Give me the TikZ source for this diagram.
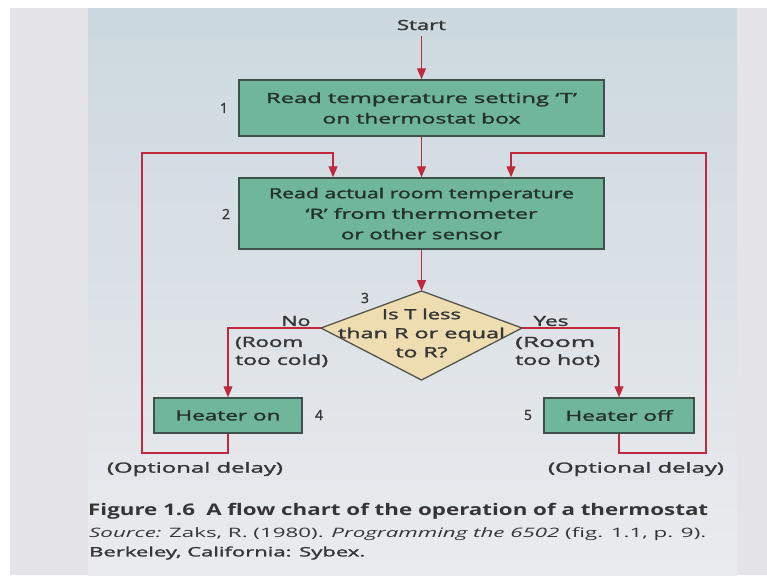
\documentclass[tikz,border=0pt]{standalone}
\usepackage{fontspec}
\setmainfont{Open Sans}
\newfontfamily\diagfont{Open Sans}[FakeBold=1.5]
\usetikzlibrary{arrows.meta}
\definecolor{outerbg}{HTML}{E5E5E9}
\definecolor{paneltop}{HTML}{CCD8DF}
\definecolor{panelbot}{HTML}{EAEBEE}
\definecolor{boxfill}{HTML}{6FB69A}
\definecolor{boxline}{HTML}{3E524B}
\definecolor{diamfill}{HTML}{EEDDB0}
\definecolor{diamline}{HTML}{55554C}
\definecolor{arrred}{HTML}{C0293D}
\definecolor{txt}{HTML}{353535}
\definecolor{boxtxt}{HTML}{24312C}
\newcommand{\fitw}[2]{\resizebox{#1pt}{\height}{#2}}
\tikzset{
  flowbox/.style={draw=boxline, fill=boxfill, line width=1.5pt, inner sep=0pt,
    text=boxtxt, align=center, font=\diagfont\fontsize{14}{20.5}\selectfont},
  lbl/.style={text=txt, inner sep=0pt, align=center, font=\diagfont\fontsize{14}{19}\selectfont},
  numlbl/.style={text=txt, inner sep=0pt, font=\diagfont\fontsize{14}{16}\selectfont},
  arr/.style={draw=arrred, line width=1.2pt, -{Triangle[length=11pt,width=9pt]}},
  capt/.style={text=txt, inner sep=0pt, anchor=west},
}
\begin{document}
\begin{tikzpicture}[x=1pt,y=-1pt]
\useasboundingbox (0,0) rectangle (767,581);
% background
\fill[white] (0,0) rectangle (767,581);
\fill[outerbg] (10,8) rectangle (767,575);
\shade[top color=paneltop, bottom color=panelbot] (88,8) rectangle (737,575);

% nodes
\node[lbl] (start) at (421.5,25) {\fitw{49}{Start}};
\node[flowbox, minimum width=365pt, minimum height=56pt] (b1) at (421.5,108)
  {\fitw{311}{Read temperature setting ‘T’}\\\fitw{198}{on thermostat box}};
\node[flowbox, minimum width=365pt, minimum height=71pt] (b2) at (421.5,213.5)
  {\fitw{305}{Read actual room temperature}\\\fitw{232}{‘R’ from thermometer}\\\fitw{161}{or other sensor}};

% diamond
\coordinate (dT) at (421.5,291);
\coordinate (dR) at (522,328);
\coordinate (dB) at (421.5,380);
\coordinate (dL) at (321,328);
\draw[draw=diamline, fill=diamfill, line width=1.3pt] (dT) -- (dR) -- (dB) -- (dL) -- cycle;
\node[lbl] (dtxt) at (421.5,333)
  {\fitw{79}{Is T less}\\\fitw{167}{than R or equal}\\\fitw{52}{to R?}};

\node[flowbox, minimum width=148pt, minimum height=35pt] (b4) at (228,415.5) {\fitw{105}{Heater on}};
\node[flowbox, minimum width=150pt, minimum height=35pt] (b5) at (619,415.5) {\fitw{107}{Heater off}};

% numbers
\node[numlbl] (n1) at (224,108) {1};
\node[numlbl] (n2) at (226,214) {2};
\node[numlbl] (n3) at (365,298) {3};
\node[numlbl] (n4) at (319,415) {4};
\node[numlbl] (n5) at (528,415) {5};

% branch labels
\node[lbl] (no) at (296,321) {\fitw{29}{No}};
\node[lbl] (yes) at (551,321) {\fitw{35}{Yes}};
\node[lbl, anchor=west, align=left, font=\diagfont\fontsize{14}{18}\selectfont] (cold) at (235,352)
  {\fitw{68}{(Room}\\\fitw{93}{too cold)}};
\node[lbl, anchor=west, align=left, font=\diagfont\fontsize{14}{18}\selectfont] (hot) at (515,352)
  {\fitw{80}{(Room}\\\fitw{85}{too hot)}};
\node[lbl] (dl1) at (195,469) {\fitw{176}{(Optional delay)}};
\node[lbl] (dl2) at (636,469) {\fitw{176}{(Optional delay)}};

% connectors
\draw[arr, shorten <=6pt] (start.south) -- (b1.north);
\draw[arr] (b1.south) -- (b2.north);
\draw[arr] (b2.south) -- (dT);
\draw[arr] (dL) -| (b4.north);
\draw[arr] (dR) -| (b5.north);

\coordinate (cL1) at (142,453);
\coordinate (cL2) at (142,153);
\coordinate (cL3) at (333,153);
\coordinate (cR1) at (706,453);
\coordinate (cR2) at (706,153);
\coordinate (cR3) at (511,153);
\draw[arr] (b4.south) |- (cL1) -- (cL2) -- (cL3) -- (cL3 |- b2.north);
\draw[arr] (b5.south) |- (cR1) -- (cR2) -- (cR3) -- (cR3 |- b2.north);

% caption
\node[capt, font=\fontsize{16}{18}\selectfont\bfseries] (cap1) at (88,511)
  {\fitw{620}{Figure 1.6\enspace A flow chart of the operation of a thermostat}};
\node[capt, font=\fontsize{13}{15}\selectfont] (cap2) at (89,534)
  {\fitw{617}{\textit{Source:} Zaks, R. (1980). \textit{Programming the 6502} (fig. 1.1, p. 9).}};
\node[capt, font=\diagfont\fontsize{13}{15}\selectfont] (cap3) at (89,553)
  {\fitw{276}{Berkeley, California: Sybex.}};
\end{tikzpicture}
\end{document}
